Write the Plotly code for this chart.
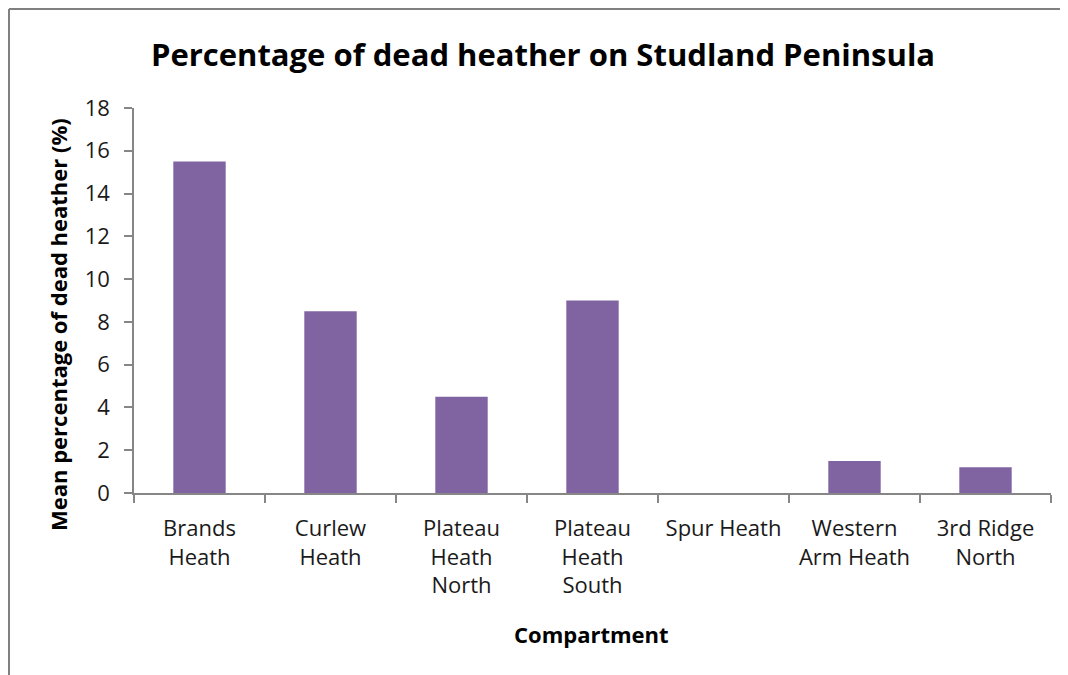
import plotly.graph_objects as go

categories = ["Brands<br>Heath", "Curlew<br>Heath", "Plateau<br>Heath<br>North",
              "Plateau<br>Heath<br>South", "Spur Heath", "Western<br>Arm Heath",
              "3rd Ridge<br>North"]
values = [15.5, 8.5, 4.5, 9.0, 0.0, 1.5, 1.2]
y_ticks = [0, 2, 4, 6, 8, 10, 12, 14, 16, 18]

FONT = "'Open Sans', Lato, sans-serif"
AXIS = "#868686"
TXT = "#1a1a1a"

# the page body adds an 8px offset; the figure is sized/positioned to compensate
FW, FH = 1060, 667
OFF = 8

fig = go.Figure(go.Bar(x=categories, y=values, marker=dict(color="#8064A2", line=dict(width=0)),
                       width=0.4))

L, T = 134 - OFF, 108 - OFF
R = FW - (1051 - OFF)
B = FH - (493 - OFF)
W, H = FW - L - R, FH - T - B

fig.update_layout(
    width=FW, height=FH,
    margin=dict(l=L, r=R, t=T, b=B, autoexpand=False),
    paper_bgcolor="white", plot_bgcolor="white",
    font=dict(family=FONT, size=22, color=TXT),
    title=dict(text="<b>Percentage of dead heather on Studland Peninsula</b>",
               x=(543 - OFF) / FW, xanchor="center", y=1 - (55 - OFF) / FH, yanchor="middle",
               font=dict(size=31, color="#000000", family=FONT)),
    showlegend=False,
    bargap=0.6,
)
fig.update_xaxes(
    showline=True, linecolor=AXIS, linewidth=1.5, automargin=False,
    ticks="outside", tickson="boundaries", ticklen=8, tickcolor=AXIS, tickwidth=1.5,
    showgrid=False, ticklabelstandoff=15,
)
fig.update_yaxes(
    range=[0, 18], tickvals=y_ticks, showline=True, linecolor=AXIS, linewidth=1.5,
    automargin=False, ticklabelstandoff=10,
    ticks="outside", ticklen=8, tickcolor=AXIS, tickwidth=1.5, showgrid=False, zeroline=False,
)

# axis titles as annotations positioned in pixels relative to the plot area
fig.add_annotation(text="<b>Compartment</b>", xref="paper", yref="paper",
                   x=(591 - OFF - L) / W, y=-(634 - 493) / H,
                   xanchor="center", yanchor="middle", showarrow=False,
                   font=dict(size=22, color="#000000", family=FONT))
fig.add_annotation(text="<b>Mean percentage of dead heather (%)</b>", xref="paper", yref="paper",
                   x=(58 - 134) / W, y=1 - (325 - 108) / H, xanchor="center", yanchor="middle",
                   textangle=-90, showarrow=False,
                   font=dict(size=22, color="#000000", family=FONT))

# chart frame (left and top border, Excel-style)
x0 = (1 - L) / W
y0 = 1 + (T - 1) / H
fig.add_shape(type="line", xref="paper", yref="paper", x0=x0, x1=x0, y0=y0, y1=-1,
              line=dict(color="#808080", width=2))
fig.add_shape(type="line", xref="paper", yref="paper", x0=x0, x1=1.2, y0=y0, y1=y0,
              line=dict(color="#808080", width=2))

fig.write_html("out.html")
